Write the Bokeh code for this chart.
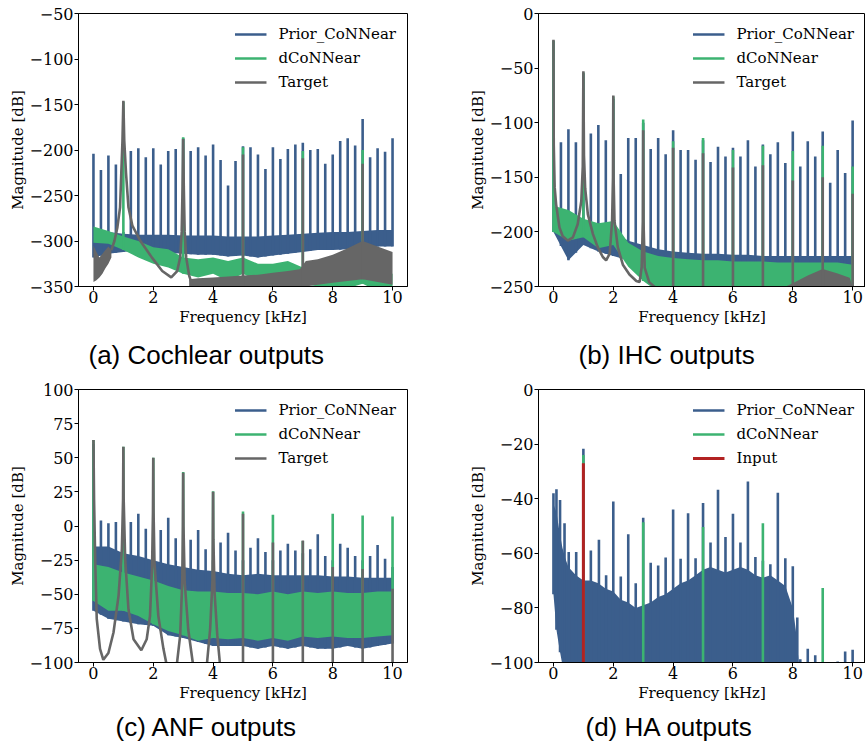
import numpy as np
from bokeh.plotting import figure
from bokeh.models import Range1d, Title, Legend, LegendItem, FixedTicker, CustomJSTickFormatter
from bokeh.layouts import gridplot
from bokeh.embed import file_html
from bokeh.resources import INLINE

# ---------------- data ----------------
X_TICKS = [0, 2, 4, 6, 8, 10]
HARM_F = [0.0, 0.25, 0.5, 0.75, 1.0, 1.25, 1.5, 1.75, 2.0, 2.25, 2.5, 2.75, 3.0, 3.25, 3.5, 3.75,
          4.0, 4.25, 4.5, 4.75, 5.0, 5.25, 5.5, 5.75, 6.0, 6.25, 6.5, 6.75, 7.0, 7.25, 7.5, 7.75,
          8.0, 8.25, 8.5, 8.75, 9.0, 9.25, 9.5, 9.75, 10.0]
BAND_F = [0.0, 0.5, 1.0, 1.5, 2.0, 2.5, 3.0, 3.5, 4.0, 4.5, 5.0, 5.5, 6.0, 6.5, 7.0, 7.5, 8.0,
          8.5, 9.0, 9.5, 10.0]
ODD_F = [1.0, 3.0, 5.0, 7.0, 9.0]
INT_F = [0.0, 1.0, 2.0, 3.0, 4.0, 5.0, 6.0, 7.0, 8.0, 9.0, 10.0]

# (a) Cochlear outputs
A_YTICKS = [-350, -300, -250, -200, -150, -100, -50]
A_PRIOR_PEAK = [-204, -222, -206, -216, -290, -201, -198, -208, -198, -216, -201, -199, -187, -201,
                -197, -206, -194, -211, -239, -212, -196, -197, -205, -221, -197, -210, -199, -194,
                -192, -200, -199, -215, -205, -190, -187, -195, -166, -208, -198, -202, -187]
A_PRIOR_HI = [-288, -290, -292, -293, -293, -293, -294, -294, -294, -295, -295, -295, -294, -293,
              -292, -291, -290, -290, -289, -288, -288]
A_PRIOR_LO = [-318, -314, -312, -310, -312, -313, -314, -315, -315, -317, -316, -318, -316, -314,
              -312, -310, -310, -309, -308, -306, -306]
A_DCON_HI = [-284, -289, -295, -300, -307, -309, -318, -320, -318, -322, -318, -325, -325, -322,
             -329, -329, -336, -329, -325, -333, -336]
A_DCON_LO = [-302, -303, -310, -318, -325, -329, -336, -340, -336, -344, -336, -344, -344, -342,
             -347, -350, -355, -352, -347, -355, -355]
A_DCON_PEAK = [-147, -186, -197, -201, -200]
A_TGT_F = [0.6, 0.7, 0.8, 0.89, 0.93, 0.97, 1.0, 1.03, 1.09, 1.17, 1.3, 1.57, 1.95, 2.3, 2.6, 2.8,
           2.9, 2.95, 2.98, 3.0, 3.02, 3.05, 3.1, 3.2, 3.3]
A_TGT_DB = [-310, -300, -285, -263, -226, -190, -146, -190, -226, -263, -283, -300, -318, -333,
            -340, -333, -318, -290, -240, -188, -240, -290, -318, -338, -348]
A_TGT_N1_F = [0.0, 0.1, 0.2, 0.3, 0.4, 0.5, 0.6]
A_TGT_N1_HI = [-305, -312, -318, -314, -310, -306, -310]
A_TGT_N1_LO = [-345, -343, -340, -336, -330, -325, -318]
A_TGT_N2_F = [3.2, 3.5, 4.0, 4.5, 5.0, 5.5, 6.0, 6.5, 6.9, 7.1, 7.5, 8.0, 8.5, 9.0, 9.5, 10.0]
A_TGT_N2_HI = [-342, -341, -340, -339, -338, -337, -335, -333, -331, -322, -320, -315, -308, -300,
               -306, -312]
A_TGT_N2_LO = [-352, -352, -352, -352, -352, -352, -352, -352, -352, -350, -348, -346, -344, -342,
               -345, -348]
A_TGT_SPIKE_F = [5.0, 7.0, 9.0]
A_TGT_SPIKE = [-205, -209, -215]

# (b) IHC outputs
B_YTICKS = [-250, -200, -150, -100, -50, 0]
B_PRIOR_PEAK = [-25, -118, -106, -118, -55, -110, -102, -116, -78, -147, -114, -114, -100, -124,
                -114, -129, -107, -125, -125, -134, -116, -136, -122, -131, -123, -131, -116, -140,
                -120, -129, -118, -137, -108, -140, -117, -131, -108, -155, -125, -146, -98]
B_PRIOR_HI = [-178, -190, -190, -195, -200, -208, -212, -216, -218, -219, -220, -220, -221, -221,
              -222, -222, -222, -222, -222, -222, -222]
B_PRIOR_LO = [-200, -226, -212, -218, -222, -226, -230, -232, -234, -234, -234, -235, -235, -235,
              -235, -235, -235, -235, -235, -235, -235]
B_DCON_HI = [-176, -180, -188, -192, -190, -210, -218, -222, -224, -225, -226, -226, -227, -227,
             -227, -228, -228, -228, -228, -228, -230]
B_DCON_LO = [-200, -208, -205, -215, -212, -232, -245, -255, -255, -255, -255, -255, -255, -255,
             -255, -255, -255, -255, -255, -255, -255]
B_DCON_PEAK = [-25, -54, -76, -97, -117, -114, -125, -121, -126, -121, -140]
B_TGT_F = [0.0, 0.01, 0.04, 0.09, 0.2, 0.31, 0.48, 0.65, 0.81, 0.93, 0.98, 1.0, 1.02, 1.06, 1.15,
           1.32, 1.48, 1.65, 1.76, 1.88, 1.96, 1.99, 2.0, 2.01, 2.04, 2.15, 2.32, 2.54, 2.77, 2.88,
           2.95, 2.99, 3.0, 3.01, 3.05, 3.2, 3.45, 3.7]
B_TGT_DB = [-24, -120, -159, -175, -196, -204, -208, -205, -193, -172, -140, -53, -130, -160, -184,
            -202, -214, -223, -226, -220, -190, -150, -75, -150, -190, -214, -230, -239, -245, -246,
            -232, -190, -107, -190, -233, -246, -252, -258]
B_TGT_SPIKE_F = [4.0, 5.0, 6.0, 7.0, 8.0, 9.0, 10.0]
B_TGT_SPIKE = [-123, -128, -141, -139, -153, -150, -165]
B_TGT_N_F = [7.6, 8.0, 8.5, 9.0, 9.5, 9.9, 10.0]
B_TGT_N_HI = [-252, -247, -240, -234, -238, -242, -250]
B_TGT_N_LO = [-260, -260, -260, -260, -260, -260, -260]

# (c) ANF outputs
C_YTICKS = [-100, -75, -50, -25, 0, 25, 50, 75, 100]
C_PRIOR_PEAK = [60, 4, 2, 3, -20, 3, 9, -2, -20, -3, 6, -9, -25, -10, -3, -17, -25, -12, -5, -18,
                -25, -16, -9, -19, -25, -18, -13, -18, -20, -17, -6, -22, -25, -13, -16, -22, -25,
                -22, -14, -24, -30]
C_PRIOR_HI = [-15, -15, -20, -22, -25, -28, -30, -32, -33, -35, -36, -35, -36, -36, -36, -36, -37,
              -37, -38, -38, -38]
C_PRIOR_LO = [-62, -68, -70, -72, -73, -80, -82, -85, -88, -88, -88, -90, -88, -90, -88, -90, -90,
              -88, -90, -88, -86]
C_DCON_HI = [-28, -30, -34, -37, -40, -44, -47, -48, -48, -49, -49, -50, -48, -50, -48, -49, -48,
             -49, -49, -48, -48]
C_DCON_LO = [-55, -62, -62, -66, -72, -77, -80, -84, -82, -83, -82, -84, -82, -84, -81, -82, -81,
             -82, -82, -81, -80]
C_DCON_PEAK = [63, 58, 50, 39.5, 25.5, 10.6, 8.2, -11, 9, 7.7, 7]
C_TGT_F = [0.0, 0.02, 0.06, 0.11, 0.22, 0.33, 0.5, 0.67, 0.84, 0.95, 0.99, 1.0, 1.01, 1.06, 1.17,
           1.34, 1.6, 1.78, 1.89, 1.96, 1.99, 2.0, 2.01, 2.04, 2.17, 2.34, 2.45, 2.6, 2.78, 2.9,
           2.97, 2.99, 3.0, 3.01, 3.05, 3.17, 3.32, 3.5, 3.79, 3.9, 3.98, 3.99, 4.0, 4.01, 4.05,
           4.14, 4.23, 4.4]
C_TGT_DB = [63, 20, -27, -68, -90, -98, -93, -78, -51, -17, 20, 58, 20, -24, -61, -83, -91, -83,
            -66, -30, 10, 50, 10, -27, -66, -90, -102, -110, -103, -80, -40, 0, 39, 0, -41, -76,
            -100, -110, -102, -76, -40, -10, 25, -10, -49, -80, -101, -110]
C_TGT_SPIKE_F = [5.0, 6.0, 7.0, 8.0, 9.0, 10.0]
C_TGT_SPIKE = [9, -12, -10.6, -30, -31.5, -46]

# (d) HA outputs
D_YTICKS = [-100, -80, -60, -40, -20, 0]
D_ENV_F = [0.0, 0.1, 0.2, 0.3, 0.4, 0.5, 0.75, 1.0, 1.25, 1.5, 1.75, 2.0, 2.25, 2.5, 2.75, 3.0,
           3.25, 3.5, 3.75, 4.0, 4.25, 4.5, 4.75, 5.0, 5.25, 5.5, 5.75, 6.0, 6.25, 6.5, 6.75, 7.0,
           7.25, 7.5, 7.75, 8.0, 8.1, 8.2]
D_PRIOR_HI = [-42, -45, -52, -58, -62, -65, -68, -70, -70, -71, -73, -74, -77, -78, -80, -79, -78,
              -76, -75, -73, -71, -70, -68, -66, -65, -66, -67, -66, -65, -66, -68, -69, -68, -70,
              -72, -80, -88, -100]
D_PRIOR_LO = [-75, -88, -95, -101, -105, -105, -105, -105, -105, -105, -105, -105, -105, -105,
              -105, -105, -105, -105, -105, -105, -105, -105, -105, -105, -105, -105, -105, -105,
              -105, -105, -105, -105, -105, -105, -105, -105, -105, -105]
D_PRIOR_SPIKE_F = [0.0, 0.1, 0.22, 0.37, 0.51, 0.76, 1.0, 1.25, 1.52, 1.76, 2.0, 2.25, 2.5, 2.75,
                   3.0, 3.25, 3.5, 3.75, 4.0, 4.25, 4.5, 4.75, 5.0, 5.25, 5.5, 5.75, 6.0, 6.25,
                   6.5, 6.75, 7.0, 7.25, 7.5, 7.75, 8.0, 8.15, 8.25, 8.5, 8.75, 9.5, 9.75, 10.0]
D_PRIOR_SPIKE = [-38, -36.5, -40.5, -49, -59.5, -59.5, -21.7, -59, -55, -68, -41, -68.5, -53, -71,
                 -47, -63.5, -64.5, -61.5, -44, -62, -45.3, -61.8, -41.6, -56, -36.7, -54, -45.5,
                 -56, -33.7, -61.4, -62.7, -64, -37.8, -61.8, -64.7, -83.5, -98.8, -95, -97.3,
                 -99.6, -96, -95.3]
D_DCON_SPIKE = [-24, -48.6, -50.4, -49, -72.7]
D_INPUT_F = [1.0]
D_INPUT = [-27]

# ---------------- styling ----------------
BLUE = "#3b5e8c"
GREEN = "#3cb371"
GRAY = "#666666"
RED = "#b22222"
SERIF = "DejaVu Serif"
SANS = "Liberation Sans"
LW = 2.6
MINUS_JS = "return (tick < 0 ? '\\u2212' : '') + Math.abs(tick).toFixed(0);"


def make_fig(y_range, y_ticks, x_end, w, h, b_left, b_right, b_top, b_bottom):
    p = figure(width=w, height=h,
               x_range=Range1d(-0.5, x_end), y_range=Range1d(*y_range),
               output_backend="svg", toolbar_location=None, title_location=None,
               min_border_left=b_left, min_border_right=b_right,
               min_border_top=b_top, min_border_bottom=b_bottom)
    p.grid.visible = False
    p.outline_line_color = "black"
    p.outline_line_width = 1
    p.outline_line_alpha = 1.0
    p.xaxis.ticker = FixedTicker(ticks=X_TICKS)
    p.yaxis.ticker = FixedTicker(ticks=y_ticks)
    p.xaxis.formatter = CustomJSTickFormatter(code=MINUS_JS)
    p.yaxis.formatter = CustomJSTickFormatter(code=MINUS_JS)
    for ax in (p.xaxis[0], p.yaxis[0]):
        ax.major_label_text_font = SERIF
        ax.major_label_text_font_size = "16px"
        ax.major_label_text_color = "black"
        ax.axis_label_text_font = SERIF
        ax.axis_label_text_font_size = "15px"
        ax.axis_label_text_font_style = "normal"
        ax.axis_label_text_color = "black"
        ax.major_tick_in = 0
        ax.major_tick_out = 4
        ax.minor_tick_in = 0
        ax.minor_tick_out = 0
        ax.axis_line_color = "black"
        ax.major_tick_line_color = "black"
    p.xaxis.axis_label_standoff = 2
    p.yaxis.axis_label_standoff = 0
    p.xaxis.major_label_standoff = 0
    p.yaxis.major_label_standoff = 1
    p.xaxis.axis_label = "Frequency [kHz]"
    p.yaxis.axis_label = "Magnitude [dB]"
    return p


def add_legend(p, items):
    leg = Legend(items=[LegendItem(label=l, renderers=[r]) for l, r in items],
                 location="top_right")
    leg.background_fill_alpha = 0
    leg.border_line_alpha = 0
    leg.label_text_font = SERIF
    leg.label_text_font_size = "15px"
    leg.label_text_color = "black"
    leg.glyph_width = 32
    leg.glyph_height = 20
    leg.label_height = 20
    leg.label_standoff = 12
    leg.spacing = 4
    leg.padding = 6
    leg.margin = 5
    p.add_layout(leg)


def add_caption(p, text, offset, standoff):
    cap = Title(text=text, align="left", offset=offset, text_font=SANS,
                text_font_size="26px", text_font_style="normal", text_color="black",
                standoff=standoff)
    p.add_layout(cap, "below")


def spikes(p, f, top, base, color, width=LW):
    return p.segment(x0=f, y0=base, x1=f, y1=top, line_color=color, line_width=width)


# ---------------- (a) ----------------
pa = make_fig((-350, -50), A_YTICKS, 10.5, 460, 380, 78, 53, 13, 94)
pa.varea(x=BAND_F, y1=A_PRIOR_LO, y2=A_PRIOR_HI, fill_color=BLUE)
ra1 = spikes(pa, HARM_F, A_PRIOR_PEAK, np.interp(HARM_F, BAND_F, A_PRIOR_LO), BLUE)
pa.varea(x=BAND_F, y1=A_DCON_LO, y2=A_DCON_HI, fill_color=GREEN)
ra2 = spikes(pa, ODD_F, A_DCON_PEAK, np.interp(ODD_F, BAND_F, A_DCON_LO), GREEN)
pa.varea(x=A_TGT_N1_F, y1=A_TGT_N1_LO, y2=A_TGT_N1_HI, fill_color=GRAY)
pa.varea(x=A_TGT_N2_F, y1=A_TGT_N2_LO, y2=A_TGT_N2_HI, fill_color=GRAY)
ra3 = pa.line(A_TGT_F, A_TGT_DB, line_color=GRAY, line_width=LW)
spikes(pa, A_TGT_SPIKE_F, A_TGT_SPIKE, np.interp(A_TGT_SPIKE_F, A_TGT_N2_F, A_TGT_N2_LO), GRAY)
add_legend(pa, [("Prior_CoNNear", ra1), ("dCoNNear", ra2), ("Target", ra3)])
add_caption(pa, "(a) Cochlear outputs", 10, 19)

# ---------------- (b) ----------------
pb = make_fig((-250, 0), B_YTICKS, 10.43, 405, 380, 78, 0, 13, 94)
pb.varea(x=BAND_F, y1=B_PRIOR_LO, y2=B_PRIOR_HI, fill_color=BLUE)
rb1 = spikes(pb, HARM_F, B_PRIOR_PEAK, np.interp(HARM_F, BAND_F, B_PRIOR_LO), BLUE)
pb.varea(x=BAND_F, y1=B_DCON_LO, y2=B_DCON_HI, fill_color=GREEN)
rb2 = spikes(pb, INT_F, B_DCON_PEAK, np.interp(INT_F, BAND_F, B_DCON_LO), GREEN)
pb.varea(x=B_TGT_N_F, y1=B_TGT_N_LO, y2=B_TGT_N_HI, fill_color=GRAY)
rb3 = pb.line(B_TGT_F, B_TGT_DB, line_color=GRAY, line_width=LW)
spikes(pb, B_TGT_SPIKE_F, B_TGT_SPIKE, -260, GRAY)
add_legend(pb, [("Prior_CoNNear", rb1), ("dCoNNear", rb2), ("Target", rb3)])
add_caption(pb, "(b) IHC outputs", 40, 19)

# ---------------- (c) ----------------
pc = make_fig((-100, 100), C_YTICKS, 10.5, 460, 368, 78, 53, 9, 86)
pc.varea(x=BAND_F, y1=C_PRIOR_LO, y2=C_PRIOR_HI, fill_color=BLUE)
rc1 = spikes(pc, HARM_F, C_PRIOR_PEAK, np.interp(HARM_F, BAND_F, C_PRIOR_LO), BLUE)
pc.varea(x=BAND_F, y1=C_DCON_LO, y2=C_DCON_HI, fill_color=GREEN)
rc2 = spikes(pc, INT_F, C_DCON_PEAK, np.interp(INT_F, BAND_F, C_DCON_LO), GREEN)
rc3 = pc.line(C_TGT_F, C_TGT_DB, line_color=GRAY, line_width=LW)
spikes(pc, C_TGT_SPIKE_F, C_TGT_SPIKE, -110, GRAY)
add_legend(pc, [("Prior_CoNNear", rc1), ("dCoNNear", rc2), ("Target", rc3)])
add_caption(pc, "(c) ANF outputs", 37, 10)

# ---------------- (d) ----------------
pd_ = make_fig((-100, 0), D_YTICKS, 10.43, 405, 368, 78, 0, 9, 86)
pd_.varea(x=D_ENV_F, y1=D_PRIOR_LO, y2=D_PRIOR_HI, fill_color=BLUE)
rd1 = spikes(pd_, D_PRIOR_SPIKE_F, D_PRIOR_SPIKE, np.interp(D_PRIOR_SPIKE_F, D_ENV_F, D_PRIOR_LO), BLUE)
rd2 = spikes(pd_, ODD_F, D_DCON_SPIKE, -105, GREEN)
rd3 = spikes(pd_, D_INPUT_F, D_INPUT, -105, RED, 3)
add_legend(pd_, [("Prior_CoNNear", rd1), ("dCoNNear", rd2), ("Input", rd3)])
add_caption(pd_, "(d) HA outputs", 47, 10)

grid = gridplot([[pa, pb], [pc, pd_]], toolbar_location=None)

with open("out.html", "w", encoding="utf-8") as fh:
    fh.write(file_html(grid, INLINE))
